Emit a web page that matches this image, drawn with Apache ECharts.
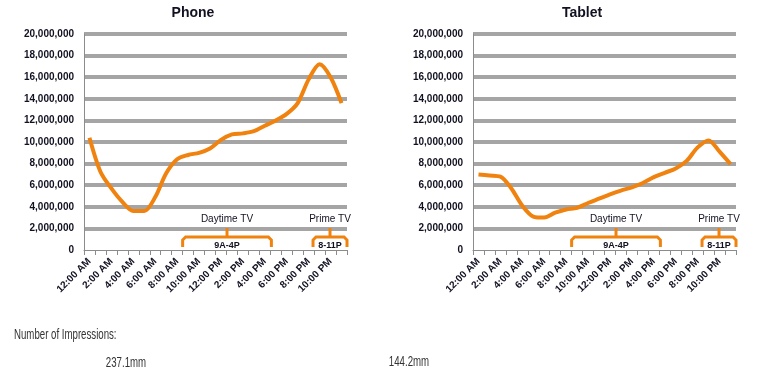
<!DOCTYPE html>
<html><head><meta charset="utf-8">
<script src="https://cdn.jsdelivr.net/npm/echarts@6/dist/echarts.min.js"></script>
<style>html,body{margin:0;padding:0;background:#fff}#c{width:763px;height:385px}</style>
</head><body><div id="c"></div>
<script>
var hours = ['12:00 AM','1:00 AM','2:00 AM','3:00 AM','4:00 AM','5:00 AM','6:00 AM','7:00 AM','8:00 AM','9:00 AM','10:00 AM','11:00 AM','12:00 PM','1:00 PM','2:00 PM','3:00 PM','4:00 PM','5:00 PM','6:00 PM','7:00 PM','8:00 PM','9:00 PM','10:00 PM','11:00 PM'];
var phoneValues = [10400000,7250000,5700000,4450000,3600000,3600000,4900000,7100000,8400000,8800000,9000000,9400000,10200000,10700000,10800000,11000000,11500000,12000000,12600000,13600000,15800000,17200000,16000000,13600000];
var tabletValues = [7000000,6900000,6800000,5700000,4100000,3100000,3000000,3450000,3750000,3900000,4350000,4750000,5150000,5500000,5800000,6200000,6750000,7150000,7550000,8250000,9500000,10150000,9100000,7950000];
var chartTitles = ['Phone','Tablet'];
var totals = ['237.1mm','144.2mm'];
var footLabel = 'Number of Impressions:';
var brackets = [
  {top:'Daytime TV', inner:'9A-4P', from:8.5, to:16.6},
  {top:'Prime TV', inner:'8-11P', from:20.4, to:23.5}
];
var ORANGE = '#F0830F';
var GRID = '#A5A5A5';
var TXT = '#111122';
var splitColors = ['rgba(0,0,0,0)'];
for (var k=0;k<10;k++) splitColors.push(GRID);

var chart = echarts.init(document.getElementById('c'), null, {renderer:'canvas'});
function xAxis(gi){
  return {type:'category', gridIndex:gi, data:hours, boundaryGap:true,
    axisLine:{show:true, lineStyle:{color:'#8C8C8C', width:1}},
    axisTick:{show:true, interval:0, length:5, lineStyle:{color:'#8C8C8C'}},
    axisLabel:{interval:1, rotate:45, fontSize:10, fontWeight:'bold', color:TXT, fontFamily:'Liberation Sans', margin:10}};
}
function yAxis(gi){
  return {type:'value', gridIndex:gi, min:0, max:20000000, interval:2000000,
    axisLine:{show:true, lineStyle:{color:'#8C8C8C', width:1}},
    axisTick:{show:false},
    axisLabel:{fontSize:10, fontWeight:'bold', color:TXT, fontFamily:'Liberation Sans', margin:10,
      formatter:function(v){return v.toLocaleString('en-US');}},
    splitLine:{show:true, lineStyle:{color:splitColors, width:4}}};
}
function series(gi, vals){
  return {type:'line', xAxisIndex:gi, yAxisIndex:gi, data:vals, smooth:0.3, showSymbol:false,
    lineStyle:{color:ORANGE, width:4}, itemStyle:{color:ORANGE}, z:5};
}
chart.setOption({
  animation:false,
  textStyle:{fontFamily:'Liberation Sans'},
  title:[
    {text:chartTitles[0], left:188, top:1, textAlign:'center', textStyle:{fontSize:14, fontWeight:'bold', color:TXT, fontFamily:'Liberation Sans'}},
    {text:chartTitles[1], left:577, top:1, textAlign:'center', textStyle:{fontSize:14, fontWeight:'bold', color:TXT, fontFamily:'Liberation Sans'}}
  ],
  grid:[
    {left:84, right:416, top:34, bottom:135},
    {left:473, right:27, top:34, bottom:135}
  ],
  xAxis:[xAxis(0), xAxis(1)],
  yAxis:[yAxis(0), yAxis(1)],
  series:[series(0, phoneValues), series(1, tabletValues)]
});

var g = [];
[0,1].forEach(function(gi){
  var p0 = chart.convertToPixel({gridIndex:gi}, [0, 0]);
  var p1 = chart.convertToPixel({gridIndex:gi}, [1, 0]);
  var w = p1[0]-p0[0];
  var zeroY = p0[1];
  function px(i){ return p0[0] + w*i; }
  brackets.forEach(function(b){
    var l = px(b.from), r = px(b.to), c = (l+r)/2;
    var yH = zeroY-13, yB = zeroY-3, yS = zeroY-22, rr = 3;
    g.push({type:'polyline', z:10, shape:{points:[[l, yB],[l, yH+rr],[l+rr, yH],[r-rr, yH],[r, yH+rr],[r, yB]]},
      style:{stroke:ORANGE, lineWidth:3, fill:null}});
    g.push({type:'line', z:10, shape:{x1:c, y1:yH, x2:c, y2:yS}, style:{stroke:ORANGE, lineWidth:3}});
    g.push({type:'text', z:11, x:c, y:zeroY-31, style:{text:b.top, fill:TXT, font:'10px "Liberation Sans"', textAlign:'center', textVerticalAlign:'middle'}});
    g.push({type:'text', z:11, x:c, y:zeroY-4, style:{text:b.inner, fill:TXT, font:'bold 9px "Liberation Sans"', textAlign:'center', textVerticalAlign:'middle'}});
  });
});
var footFont = '14px "Liberation Sans"';
g.push({type:'text', x:14, y:335, scaleX:0.69, style:{text:footLabel, fill:'#333', font:footFont, textAlign:'left', textVerticalAlign:'middle'}});
g.push({type:'text', x:126, y:363, scaleX:0.69, style:{text:totals[0], fill:'#333', font:footFont, textAlign:'center', textVerticalAlign:'middle'}});
g.push({type:'text', x:409, y:362, scaleX:0.69, style:{text:totals[1], fill:'#333', font:footFont, textAlign:'center', textVerticalAlign:'middle'}});
chart.setOption({graphic:g});
</script></body></html>
